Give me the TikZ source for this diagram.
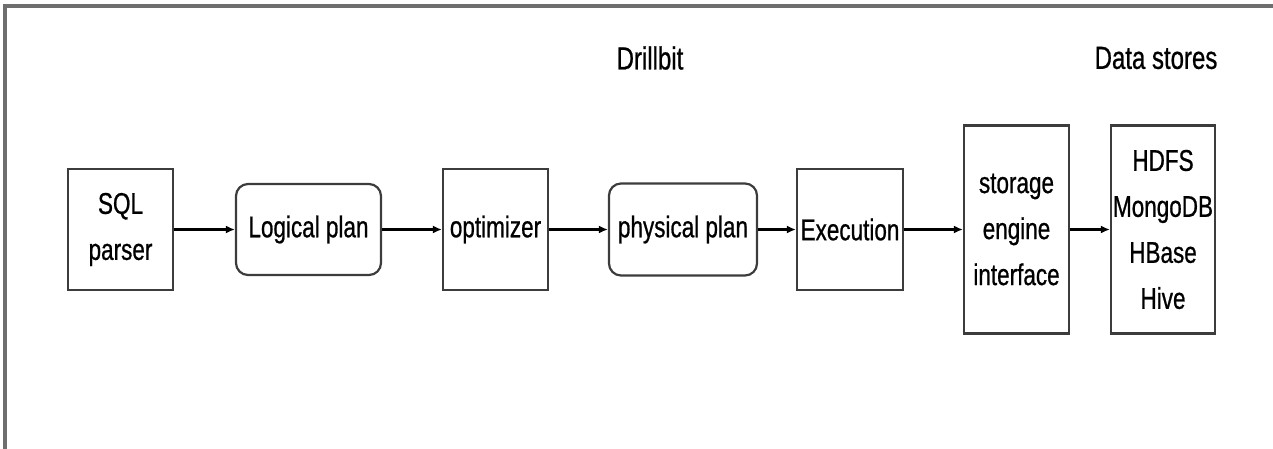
\documentclass[tikz,border=0pt]{standalone}
\usepackage{fontspec}
\setmainfont[FakeStretch=0.75,FakeBold=0.7]{Liberation Sans}
\usetikzlibrary{arrows.meta}
\definecolor{boxgray}{RGB}{60,60,60}
\definecolor{framegray}{RGB}{110,110,110}
\begin{document}
\begin{tikzpicture}[x=1pt,y=-1pt,
  box/.style={draw=boxgray, line width=2.2pt, inner sep=0pt, align=center, text=black,
    font=\fontsize{30}{46}\selectfont},
  rbox/.style={box, rounded corners=12pt},
  conn/.style={line width=2.2pt, draw=black, -{Latex[length=9pt,width=8pt]}},
  title/.style={font=\fontsize{32}{38}\selectfont, text=black}]
\useasboundingbox (0,0) rectangle (1273,448);
\draw[framegray, line width=3.5pt] (5,480) -- (5,6) -- (1290,6);
\node[title] (drillbit) at (650,58) {Drillbit};
\node[title] (datastores) at (1156,58) {Data stores};
\node[box, minimum width=105pt, minimum height=121pt] (sql) at (120.5,229.5) {SQL\\parser};
\node[rbox, minimum width=145pt, minimum height=91pt] (logical) at (308.5,229.5) {Logical plan};
\node[box, minimum width=105pt, minimum height=121pt] (opt) at (495.5,229.5) {optimizer};
\node[rbox, minimum width=148pt, minimum height=92pt] (phys) at (683,229.5) {physical plan};
\node[box, minimum width=106pt, minimum height=121pt] (exec) at (850,229.5) {Execution};
\node[box, minimum width=105pt, minimum height=208pt] (storage) at (1016.5,229.5) {storage\\engine\\interface};
\node[box, minimum width=104pt, minimum height=208pt] (stores) at (1163,229.5) {HDFS\\MongoDB\\HBase\\Hive};
\draw[conn] (sql) -- (logical);
\draw[conn] (logical) -- (opt);
\draw[conn] (opt) -- (phys);
\draw[conn] (phys) -- (exec);
\draw[conn] (exec) -- (storage);
\draw[conn] (storage) -- (stores);
\end{tikzpicture}
\end{document}
